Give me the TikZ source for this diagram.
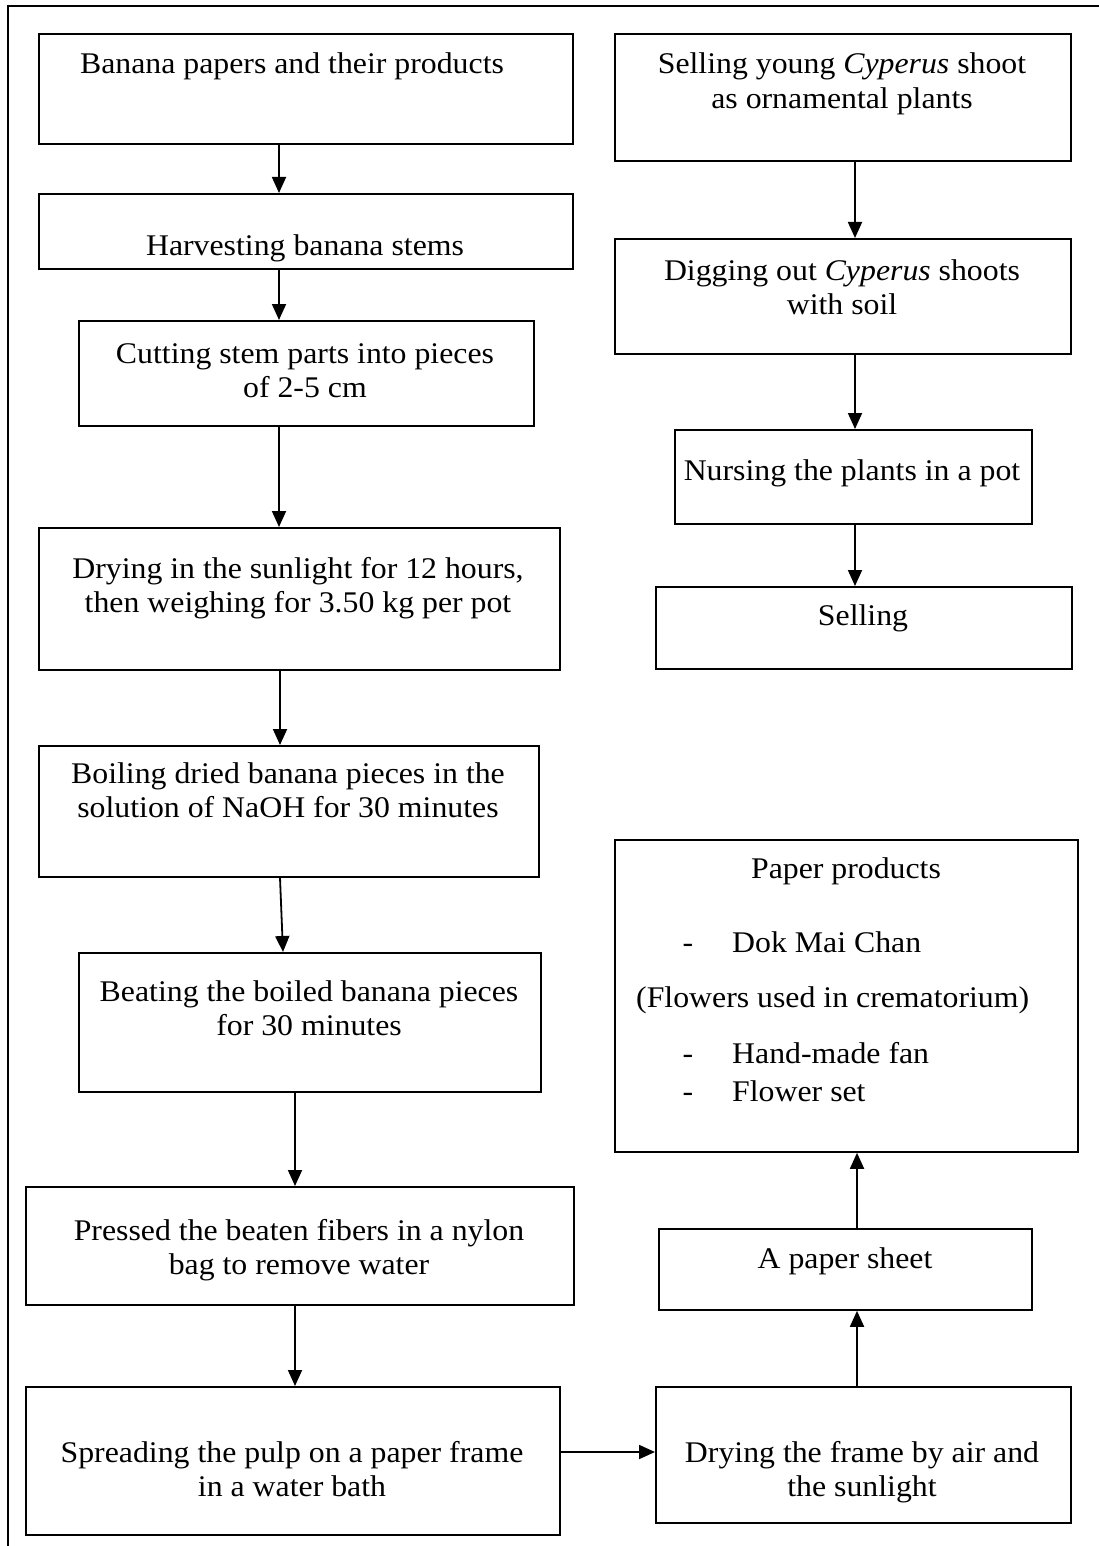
\documentclass[tikz,border=0pt]{standalone}
\usepackage{fontspec}
\setmainfont{Liberation Serif}[FakeStretch=1.06]
\usetikzlibrary{arrows.meta}
\newcommand{\twol}[2]{\begin{tabular}[t]{@{}c@{}}#1\\#2\end{tabular}}
\begin{document}
\begin{tikzpicture}[x=1pt,y=-1pt,
  box/.style={draw, line width=1.8pt, anchor=north west, inner sep=0pt},
  txt/.style={anchor=base, inner sep=0pt, font=\fontsize{30}{34.5}\selectfont},
  txtw/.style={txt, anchor=base west},
  arr/.style={-{Triangle[length=16pt,width=14pt]}, line width=1.8pt}]
\useasboundingbox (0,0) rectangle (1099,1546);
\draw[line width=1.8pt] (1099,6) -- (8,6) -- (8,1546);
% left column boxes
\node[box, minimum width=534pt, minimum height=110pt] (b1) at (38,33) {};
\node[box, minimum width=534pt, minimum height=75pt] (b2) at (38,193) {};
\node[box, minimum width=455pt, minimum height=105pt] (b3) at (78,320) {};
\node[box, minimum width=521pt, minimum height=142pt] (b4) at (38,527) {};
\node[box, minimum width=500pt, minimum height=131pt] (b5) at (38,745) {};
\node[box, minimum width=462pt, minimum height=139pt] (b6) at (78,952) {};
\node[box, minimum width=548pt, minimum height=118pt] (b7) at (25,1186) {};
\node[box, minimum width=534pt, minimum height=148pt] (b8) at (25,1386) {};
% right column boxes
\node[box, minimum width=456pt, minimum height=127pt] (r1) at (614,33) {};
\node[box, minimum width=456pt, minimum height=115pt] (r2) at (614,238) {};
\node[box, minimum width=357pt, minimum height=94pt] (r3) at (674,429) {};
\node[box, minimum width=416pt, minimum height=82pt] (r4) at (655,586) {};
\node[box, minimum width=463pt, minimum height=312pt] (r5) at (614,839) {};
\node[box, minimum width=373pt, minimum height=81pt] (r6) at (658,1228) {};
\node[box, minimum width=415pt, minimum height=136pt] (r7) at (655,1386) {};
% texts
\node[txt] (t1) at (292,74) {Banana papers and their products};
\node[txt] (t2) at (305,255) {Harvesting banana stems};
\node[txt] (t3) at (305,363) {\twol{Cutting stem parts into pieces}{of 2-5 cm}};
\node[txt] (t4) at (298,578) {\twol{Drying in the sunlight for 12 hours,}{then weighing for 3.50 kg per pot}};
\node[txt] (t5) at (288,783) {\twol{Boiling dried banana pieces in the}{solution of NaOH for 30 minutes}};
\node[txt] (t6) at (309,1001) {\twol{Beating the boiled banana pieces}{for 30 minutes}};
\node[txt] (t7) at (299,1240) {\twol{Pressed the beaten fibers in a nylon}{bag to remove water}};
\node[txt] (t8) at (292,1462) {\twol{Spreading the pulp on a paper frame}{in a water bath}};
\node[txt] (u1) at (842,74) {\twol{Selling young \emph{Cyperus} shoot}{as ornamental plants}};
\node[txt] (u2) at (842,280) {\twol{Digging out \emph{Cyperus} shoots}{with soil}};
\node[txt] (u3) at (852,480) {Nursing the plants in a pot};
\node[txt] (u4) at (863,625) {Selling};
\node[txt] (u5) at (846,878) {Paper products};
\node[txt] (u5a) at (688,952) {-};
\node[txtw] (u5b) at (732,952) {Dok Mai Chan};
\node[txtw] (u5c) at (636,1007) {(Flowers used in crematorium)};
\node[txt] (u5d) at (688,1063) {-};
\node[txtw] (u5e) at (732,1063) {Hand-made fan};
\node[txt] (u5f) at (688,1101) {-};
\node[txtw] (u5g) at (732,1101) {Flower set};
\node[txt] (u6) at (845,1268) {A paper sheet};
\node[txt] (u7) at (862,1462) {\twol{Drying the frame by air and}{the sunlight}};
% arrow guide coordinates
\coordinate (xa) at (279,0);
\coordinate (xb) at (280,0);
\coordinate (xc) at (283,0);
\coordinate (xd) at (295,0);
\coordinate (xr) at (855,0);
\coordinate (xs) at (857,0);
\coordinate (yh) at (0,1452);
% arrows
\draw[arr] (b1.south -| xa) -- (b2.north -| xa);
\draw[arr] (b2.south -| xa) -- (b3.north -| xa);
\draw[arr] (b3.south -| xa) -- (b4.north -| xa);
\draw[arr] (b4.south -| xb) -- (b5.north -| xb);
\draw[arr] (b5.south -| xb) -- (b6.north -| xc);
\draw[arr] (b6.south -| xd) -- (b7.north -| xd);
\draw[arr] (b7.south -| xd) -- (b8.north -| xd);
\draw[arr] (b8.east |- yh) -- (r7.west |- yh);
\draw[arr] (r1.south -| xr) -- (r2.north -| xr);
\draw[arr] (r2.south -| xr) -- (r3.north -| xr);
\draw[arr] (r3.south -| xr) -- (r4.north -| xr);
\draw[arr] (r7.north -| xs) -- (r6.south -| xs);
\draw[arr] (r6.north -| xs) -- (r5.south -| xs);
\end{tikzpicture}
\end{document}
